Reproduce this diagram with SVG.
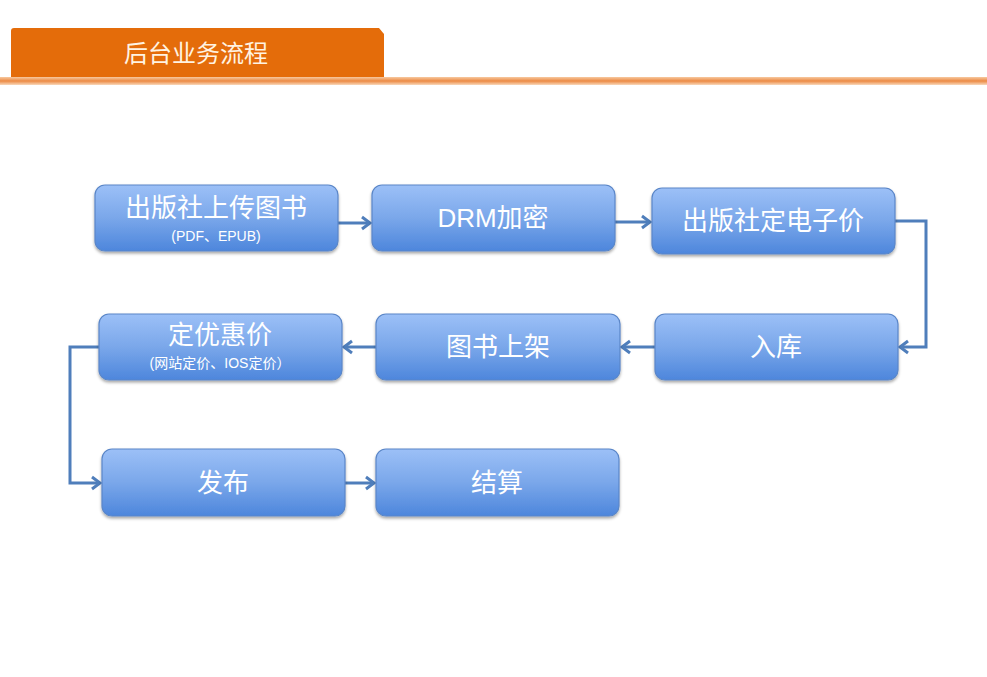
<svg xmlns="http://www.w3.org/2000/svg" width="987" height="677" viewBox="0 0 987 677">
<style>
.box{fill:url(#bg);stroke:#5a86c8;stroke-width:1.2;filter:url(#sh)}
.t{font-family:"Liberation Sans","Noto Sans CJK SC",sans-serif;fill:#ffffff;text-anchor:middle;font-size:26px}
.s{font-family:"Liberation Sans","Noto Sans CJK SC",sans-serif;fill:#ffffff;text-anchor:middle;font-size:14px}
.c{fill:none;stroke:#4f7ebb;stroke-width:3;marker-end:url(#ar)}
</style>
<defs>
<linearGradient id="bg" x1="0" y1="0" x2="0" y2="1">
<stop offset="0" stop-color="#9cc0f7"/>
<stop offset="0.5" stop-color="#7aa7ea"/>
<stop offset="1" stop-color="#4d86dc"/>
</linearGradient>
<linearGradient id="ln" x1="0" y1="0" x2="0" y2="1">
<stop offset="0" stop-color="#f7c9a0"/>
<stop offset="0.5" stop-color="#ec8a44"/>
<stop offset="1" stop-color="#f9d8bb"/>
</linearGradient>
<filter id="sh" x="-10%" y="-10%" width="120%" height="130%">
<feDropShadow dx="0" dy="2" stdDeviation="1.5" flood-color="#000" flood-opacity="0.35"/>
</filter>
<marker id="ar" markerWidth="14" markerHeight="16" refX="10" refY="8" orient="auto" markerUnits="userSpaceOnUse">
<path d="M2,2 L10,8 L2,14" fill="none" stroke="#4f7ebb" stroke-width="3"/>
</marker>
</defs>
<rect width="987" height="677" fill="#ffffff"/>
<g id="header">
<path d="M11,31 Q11,28 14,28 L379,28 L384,34 L384,79 L11,79 Z" fill="#e46c0a"/>
<rect x="0" y="77" width="987" height="8" fill="url(#ln)"/>
<text x="196" y="62" font-family="'Liberation Sans','Noto Sans CJK SC',sans-serif" font-size="24" fill="#fff3e2" text-anchor="middle">后台业务流程</text>
</g>
<g id="connectors">
<path class="c" d="M338,223 H370"/>
<path class="c" d="M615,222 H650"/>
<path class="c" d="M895,221 H926 V347 H900"/>
<path class="c" d="M655,347 H622"/>
<path class="c" d="M376,347 H344"/>
<path class="c" d="M99,347 H70 V483 H100"/>
<path class="c" d="M345,483 H374"/>
</g>
<g id="n1"><rect class="box" x="95" y="185" width="243" height="66" rx="10"/>
<text class="t" x="216" y="217">出版社上传图书</text><text class="s" x="216" y="241">(PDF、EPUB)</text></g>
<g id="n2"><rect class="box" x="372" y="185" width="243" height="66" rx="10"/>
<text class="t" x="493" y="227">DRM加密</text></g>
<g id="n3"><rect class="box" x="652" y="188" width="243" height="66" rx="10"/>
<text class="t" x="773" y="230">出版社定电子价</text></g>
<g id="n4"><rect class="box" x="655" y="314" width="243" height="66" rx="10"/>
<text class="t" x="776" y="356">入库</text></g>
<g id="n5"><rect class="box" x="376" y="314" width="244" height="66" rx="10"/>
<text class="t" x="498" y="356">图书上架</text></g>
<g id="n6"><rect class="box" x="99" y="314" width="243" height="66" rx="10"/>
<text class="t" x="220" y="344">定优惠价</text><text class="s" x="220" y="368">(网站定价、IOS定价）</text></g>
<g id="n7"><rect class="box" x="102" y="449" width="243" height="67" rx="10"/>
<text class="t" x="223" y="492">发布</text></g>
<g id="n8"><rect class="box" x="376" y="449" width="243" height="67" rx="10"/>
<text class="t" x="497" y="492">结算</text></g>
</svg>
